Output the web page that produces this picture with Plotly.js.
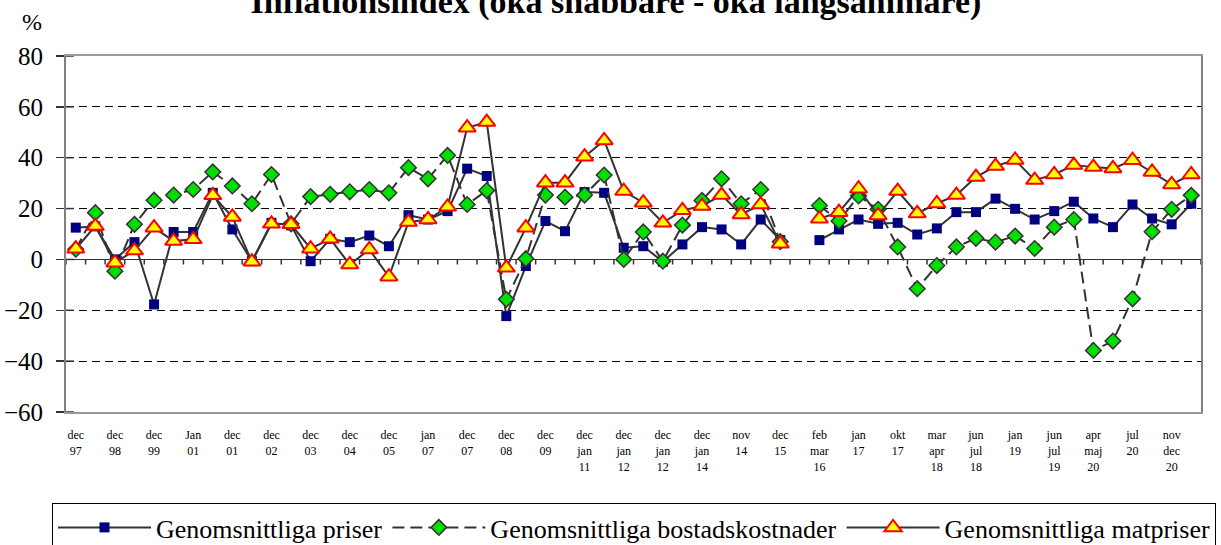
<!DOCTYPE html>
<html><head><meta charset="utf-8">
<script src="https://cdn.plot.ly/plotly-3.0.1.min.js"></script>
<style>html,body{margin:0;padding:0;background:#fff}#chart{width:1221px;height:545px}</style>
</head><body><div id="chart"></div>
<script>
const tickLabels = ["dec<br>97","dec<br>98","dec<br>99","Jan<br>01","dec<br>01","dec<br>02","dec<br>03","dec<br>04","dec<br>05","jan<br>07",
  "dec<br>07","dec<br>08","dec<br>09","dec<br>jan<br>11","dec<br>jan<br>12","dec<br>jan<br>12","dec<br>jan<br>14","nov<br>14","dec<br>15",
  "feb<br>mar<br>16","jan<br>17","okt<br>17","mar<br>apr<br>18","jun<br>jul<br>18","jan<br>19","jun<br>jul<br>19","apr<br>maj<br>20","jul<br>20","nov<br>dec<br>20"];

const priser = [12.5,13,0,6.8,-17.7,10.8,10.8,26.2,11.8,-0.7,14.4,13.4,-0.7,8.1,6.8,9.4,5.2,17.4,15.7,19,
  35.7,32.8,-22.3,-2.6,15.1,11.1,26.5,26.2,4.6,5.2,-0.9,5.9,12.7,11.8,5.9,15.7,7.6,null,7.6,11.8,
  15.7,14,14.4,9.8,12.2,18.6,18.6,23.9,19.9,15.7,19,22.7,16.1,12.7,21.6,16.1,13.8,21.9];

const bostad = [4,18.4,-4.6,13.8,23.3,25.3,27.5,34.4,28.9,21.9,33.4,14,24.7,25.6,26.6,27.5,26.2,36.1,31.7,40.9,
  21.6,27.1,-15.7,0.3,25.3,24.5,25.3,33.2,0,10.8,-0.7,13.5,23.2,31.7,21.9,27.5,7,null,21.2,15.1,
  25,19.7,4.9,-11.5,-2.4,4.9,8.3,6.8,9.2,4.3,12.7,15.7,-35.8,-32.1,-15.5,10.9,19.7,25.2];

const mat = [4.2,13.1,-1.3,3.5,12.5,7.2,7.9,25.2,16.7,-0.9,14,13.8,4.2,8.1,-2,3.9,-6.8,14.7,15.7,20.7,
  51.8,54,-3.3,12.5,30.2,30.2,40.4,46.8,26.9,22.3,14.4,19.3,21,25.3,17.7,21.6,6.2,null,16,18.6,
  27.8,17.3,26.9,18.1,22,25.3,32.4,36.7,39.1,31.2,33.4,37.1,36.3,35.8,39,34.4,29.5,33.4];

const seriesNames = ["Genomsnittliga priser","Genomsnittliga bostadskostnader","Genomsnittliga matpriser"];
const yTicks = [-60,-40,-20,0,20,40,60,80];

const n = priser.length;
const xs = priser.map((_, i) => i);
const tickPos = tickLabels.map((_, i) => i * 2);

const font = "Liberation Serif";
const lineCol = "#333333";

const traces = [
  {x: xs, y: priser, name: seriesNames[0], type: "scatter", mode: "lines+markers", connectgaps: false,
   line: {color: lineCol, width: 2},
   marker: {symbol: "square", size: 10, color: "#000080", line: {width: 0}}},
  {x: xs, y: bostad, name: seriesNames[1], type: "scatter", mode: "lines+markers", connectgaps: false,
   line: {color: lineCol, width: 2, dash: "12px,6px"},
   marker: {symbol: "diamond", size: 12, color: "#00e000", line: {color: "#333333", width: 1.5}}},
  {x: xs, y: mat, name: seriesNames[2], type: "scatter", mode: "lines+markers", connectgaps: false,
   line: {color: lineCol, width: 2},
   marker: {symbol: "triangle-up", size: 15, color: "#ffff00", line: {color: "#ff0000", width: 2}}}
];

const shapes = [];
for (let k = 0; k <= n; k++) {
  shapes.push({type: "line", xref: "x", yref: "y", x0: k - 0.5, x1: k - 0.5, y0: 0, y1: -2,
    line: {color: lineCol, width: 1.5}});
}
yTicks.forEach(v => {
  shapes.push({type: "line", xref: "paper", yref: "y", x0: 0, x1: 8/1135, y0: v, y1: v,
    line: {color: lineCol, width: 1.5}});
});

const layout = {
  width: 1221, height: 545,
  margin: {l: 66, r: 20, t: 56, b: 133, autoexpand: false},
  paper_bgcolor: "#fff", plot_bgcolor: "#fff",
  font: {family: font, color: "#000"},
  title: {text: "Inflationsindex (öka snabbare - öka långsammare)", font: {family: font, size: 34, weight: "bold", color: "#000"},
    xref: "container", x: 616/1221, xanchor: "center", yref: "container", y: 1 - 13/545, yanchor: "bottom"},
  xaxis: {range: [-0.5, n - 0.5], tickmode: "array", tickvals: tickPos, ticktext: tickLabels,
    tickfont: {family: font, size: 12, color: "#000"}, ticks: "", ticklabelstandoff: 11,
    showgrid: false, zeroline: false, showline: true, mirror: true, linecolor: "#999999", linewidth: 2, fixedrange: true},
  yaxis: {range: [-60, 80], tickmode: "array", tickvals: yTicks, ticks: "outside", ticklen: 8, tickwidth: 1.5, tickcolor: lineCol,
    tickfont: {family: font, size: 25, color: "#000"}, ticklabelstandoff: 8,
    showgrid: true, gridcolor: "#000", gridwidth: 1, griddash: "8px,5px",
    zeroline: true, zerolinecolor: lineCol, zerolinewidth: 1.5,
    showline: true, mirror: true, linecolor: "#808080", linewidth: 2, fixedrange: true},
  showlegend: true,
  legend: {orientation: "h", x: (52-66)/1135, xanchor: "left", y: -(503-412)/356, yanchor: "top",
    font: {family: font, size: 26, color: "#000"}, bordercolor: "#000", borderwidth: 1, itemwidth: 93,
    bgcolor: "#fff", traceorder: "normal"},
  annotations: [{text: "%", xref: "paper", yref: "paper", x: (32-66)/1135, y: 1 + (56-22)/356,
    xanchor: "center", yanchor: "middle", showarrow: false, font: {family: font, size: 24, color: "#000"}}],
  shapes: shapes
};

Plotly.newPlot("chart", traces, layout, {staticPlot: true, displayModeBar: false});
</script>
</body></html>
